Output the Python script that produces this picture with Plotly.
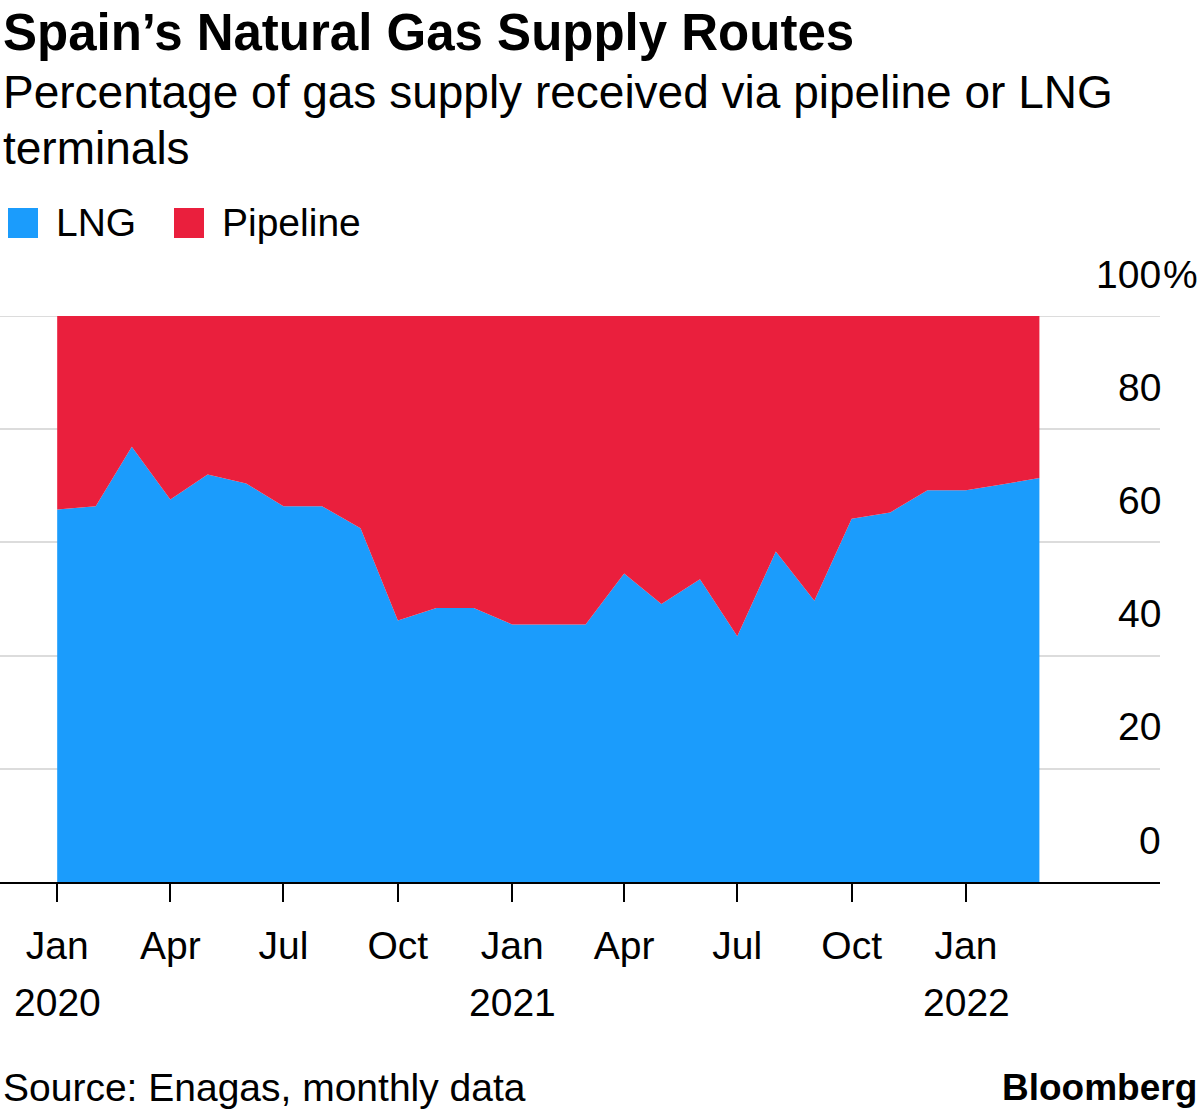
import pandas as pd
import plotly.graph_objects as go

# ---- data (monthly, Jan 2020 - Mar 2022) ----
months = pd.date_range("2020-01-01", periods=27, freq="MS")
lng = [65.8, 66.4, 76.9, 67.6, 72.0, 70.4, 66.4, 66.4, 62.5, 46.2, 48.4, 48.4,
       45.5, 45.5, 45.5, 54.5, 49.1, 53.5, 43.4, 58.4, 49.7, 64.2, 65.3, 69.2,
       69.2, 70.3, 71.4]
pipeline = [34.2, 33.6, 23.1, 32.4, 28.0, 29.6, 33.6, 33.6, 37.5, 53.8, 51.6, 51.6,
            54.5, 54.5, 54.5, 45.5, 50.9, 46.5, 56.6, 41.6, 50.3, 35.8, 34.7, 30.8,
            30.8, 29.7, 28.6]
x_tick_vals = ["2020-01-01", "2020-04-01", "2020-07-01", "2020-10-01", "2021-01-01",
               "2021-04-01", "2021-07-01", "2021-10-01", "2022-01-01"]
x_tick_text = ["Jan", "Apr", "Jul", "Oct", "Jan", "Apr", "Jul", "Oct", "Jan"]
year_vals = ["2020-01-01", "2021-01-01", "2022-01-01"]
year_text = ["2020", "2021", "2022"]
y_tick_vals = [0, 20, 40, 60, 80, 100]
y_tick_text = ["0", "20", "40", "60", "80", "100"]

BLUE = "#1b9cfc"
RED = "#ea1f3d"
GRID = "#dcdcdc"
FONT = "Liberation Sans"

W, H = 1200, 1114
TOP, BOTTOM = 316, 882
LEFT, RIGHT = 0, 1160


def py(p):
    """pixel y -> paper y"""
    return (BOTTOM - p) / (BOTTOM - TOP)


def px(p):
    return (p - LEFT) / (RIGHT - LEFT)


fig = go.Figure()
fig.add_trace(go.Scatter(x=months, y=lng, name="LNG", stackgroup="one",
                         mode="lines", line=dict(width=0, color=BLUE),
                         fillcolor=BLUE, showlegend=False))
fig.add_trace(go.Scatter(x=months, y=pipeline, name="Pipeline", stackgroup="one",
                         mode="lines", line=dict(width=0, color=RED),
                         fillcolor=RED, showlegend=False))

annotations = []
# title / subtitle
annotations.append(dict(text="<b>Spain’s Natural Gas Supply Routes</b>", x=px(1), y=py(32),
                        xref="paper", yref="paper", xanchor="left", yanchor="middle",
                        showarrow=False, font=dict(family=FONT, size=51, color="black")))
annotations.append(dict(text="Percentage of gas supply received via pipeline or LNG", x=px(1), y=py(92),
                        xref="paper", yref="paper", xanchor="left", yanchor="middle",
                        showarrow=False, font=dict(family=FONT, size=46, color="black")))
annotations.append(dict(text="terminals", x=px(1), y=py(148),
                        xref="paper", yref="paper", xanchor="left", yanchor="middle",
                        showarrow=False, font=dict(family=FONT, size=46, color="black")))
# legend
annotations.append(dict(text="LNG", x=px(54), y=py(223), xref="paper", yref="paper",
                        xanchor="left", yanchor="middle", showarrow=False,
                        font=dict(family=FONT, size=39, color="black")))
annotations.append(dict(text="Pipeline", x=px(220), y=py(223), xref="paper", yref="paper",
                        xanchor="left", yanchor="middle", showarrow=False,
                        font=dict(family=FONT, size=39, color="black")))
# y labels above gridlines
for v, t in zip(y_tick_vals, y_tick_text):
    annotations.append(dict(text=t, x=1, y=v, xref="paper", yref="y", xanchor="right",
                            yanchor="middle", yshift=42, xshift=3, showarrow=False,
                            font=dict(family=FONT, size=39, color="black")))
annotations.append(dict(text="%", x=1, y=100, xref="paper", yref="y", xanchor="left",
                        yanchor="middle", yshift=42, xshift=1, showarrow=False,
                        font=dict(family=FONT, size=39, color="black")))
# year labels
for v, t in zip(year_vals, year_text):
    annotations.append(dict(text=t, x=v, y=py(1002), xref="x", yref="paper",
                            xanchor="center", yanchor="middle", showarrow=False,
                            font=dict(family=FONT, size=39, color="black")))
# footer
annotations.append(dict(text="Source: Enagas, monthly data", x=px(1), y=py(1087),
                        xref="paper", yref="paper", xanchor="left", yanchor="middle",
                        showarrow=False, font=dict(family=FONT, size=39, color="black")))
annotations.append(dict(text="<b>Bloomberg</b>", x=px(1199), y=py(1087),
                        xref="paper", yref="paper", xanchor="right", yanchor="middle",
                        showarrow=False, font=dict(family=FONT, size=37, color="black")))

shapes = [
    dict(type="rect", xref="paper", yref="paper", x0=px(8), x1=px(38), y0=py(238), y1=py(208),
         fillcolor=BLUE, line=dict(width=0)),
    dict(type="rect", xref="paper", yref="paper", x0=px(174), x1=px(204), y0=py(238), y1=py(208),
         fillcolor=RED, line=dict(width=0)),
    # top (100%) gridline, which plotly hides at the range edge
    dict(type="line", xref="paper", yref="y", x0=0, x1=1, y0=100, y1=100,
         line=dict(color=GRID, width=2), layer="below"),
]

fig.update_layout(
    width=W, height=H,
    margin=dict(l=LEFT, r=W - RIGHT, t=TOP, b=H - BOTTOM, pad=0),
    paper_bgcolor="white", plot_bgcolor="white",
    showlegend=False,
    annotations=annotations, shapes=shapes,
    font=dict(family=FONT, size=39, color="black"),
)
fig.update_xaxes(
    range=["2019-11-16", "2022-06-06"], type="date",
    tickvals=x_tick_vals, ticktext=x_tick_text,
    ticks="outside", ticklen=18, tickwidth=2, tickcolor="black",
    showline=True, linecolor="black", linewidth=2,
    showgrid=False, zeroline=False,
    tickfont=dict(family=FONT, size=39, color="black"),
    ticklabelstandoff=10,
)
fig.update_yaxes(
    range=[0, 100], tickvals=y_tick_vals, showticklabels=False,
    showgrid=True, gridcolor=GRID, gridwidth=2, zeroline=False,
    showline=False, ticks="",
)

fig.write_html("out.html", config={"displayModeBar": False},
               post_script="document.body.style.margin='0';document.body.style.overflow='hidden';")
